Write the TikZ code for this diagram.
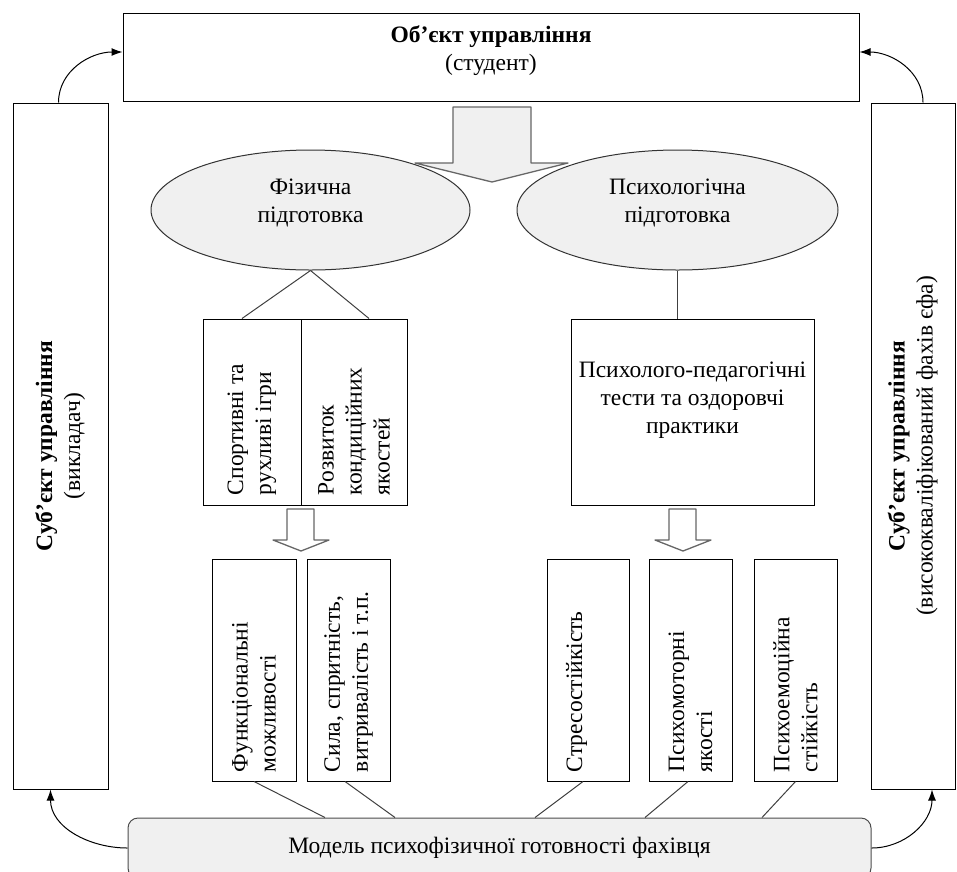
\documentclass[tikz,border=0pt]{standalone}
\usepackage{fontspec}
\setmainfont{Liberation Serif}
\usetikzlibrary{shapes.geometric,arrows.meta}

\newcommand{\vtext}[2]{\rotatebox{90}{\parbox{#1}{\raggedright #2}}}

\begin{document}
\begin{tikzpicture}[x=1pt,y=1pt,font=\fontsize{23.5}{28}\selectfont,
	box/.style={rectangle,draw=black,line width=1pt,inner sep=0pt},
	oval/.style={ellipse,draw=black!80,fill=gray!12,line width=1pt,align=center},
	link/.style={draw=black!75,line width=1pt},
	flow/.style={-{Latex[length=11pt,width=8pt]},line width=1pt},
	fat/.style={draw=black!60,line width=1.3pt,line join=round}]
\clip (0,0) rectangle (957,-871);

% object and subjects
\node (obj)[box,minimum width=736pt,minimum height=88pt,align=center] at (491,-57) {\textbf{Об’єкт управління}\\(студент)\\[-10pt]};
\node (lsub)[box,minimum width=95pt,minimum height=686pt] at (60.5,-446) {\rotatebox{90}{\begin{tabular}{@{}c@{}}\textbf{Суб’єкт управління}\\(викладач)\end{tabular}}};
\node (rsub)[box,minimum width=84pt,minimum height=686pt] at (913,-446) {\rotatebox{90}{\begin{tabular}{@{}c@{}}\textbf{Суб’єкт управління}\\(висококваліфікований фахів єфа)\end{tabular}}};

% two kinds of training
\node (fiz)[oval,minimum width=319pt,minimum height=120pt] at (310.5,-210) {Фізична\\підготовка\\[-10pt]};
\node (psy)[oval,minimum width=321pt,minimum height=120pt] at (677.5,-210) {Психологічна\\підготовка\\[-10pt]};
\draw[fat,fill=gray!12] (453,-107) -- (531,-107) -- (531,-163) -- (568,-163) -- (492,-182) -- (415,-163) -- (453,-163) -- cycle;

% means
\node (sport)[box,minimum width=98pt,minimum height=186pt] at (252,-412) {\vtext{166pt}{Спортивні та\\рухливі ігри}};
\node (rozv)[box,minimum width=106pt,minimum height=186pt] at (354,-412) {\vtext{166pt}{Розвиток\\кондиційних\\якостей}};
\node (tests)[box,minimum width=243pt,minimum height=186pt,align=center] at (692.5,-412) {Психолого-педагогічні\\тести та оздоровчі\\практики\\~};

\draw[link] (fiz.south) -- ([xshift=-10pt]sport.north);
\draw[link] (fiz.south) -- ([xshift=15pt]rozv.north);
\draw[link] (psy.south) -- (psy.south |- tests.north);

\foreach \x in {301,683}
	\draw[fat,fill=white] (\x-14,-509) -- (\x+13,-509) -- (\x+13,-540) -- (\x+28,-540) -- (\x,-551) -- (\x-28,-540) -- (\x-14,-540) -- cycle;

% results
\node (func)[box,minimum width=84pt,minimum height=222pt] at (254,-670) {\vtext{204pt}{Функціональні\\можливості}};
\node (sila)[box,minimum width=83pt,minimum height=222pt] at (348.5,-670) {\vtext{204pt}{Сила, спритність,\\витривалість і т.п.}};
\node (stress)[box,minimum width=82pt,minimum height=222pt] at (588,-670) {\vtext{204pt}{Стресостійкість\\~}};
\node (pmot)[box,minimum width=83pt,minimum height=222pt] at (690.5,-670) {\vtext{204pt}{Психомоторні\\якості}};
\node (pemo)[box,minimum width=83pt,minimum height=222pt] at (795.5,-670) {\vtext{204pt}{Психоемоційна\\стійкість}};

\node (model)[box,rounded corners=10pt,draw=black!70,fill=gray!12,minimum width=743pt,minimum height=60pt] at (499.5,-848) {Модель психофізичної готовності фахівця};

\draw[link] (func.south) -- ([xshift=-174.5pt]model.north);
\draw[link] ([xshift=-3.5pt]sila.south) -- ([xshift=-104.5pt]model.north);
\draw[link] ([xshift=-5pt]stress.south) -- ([xshift=35.5pt]model.north);
\draw[link] ([xshift=-2.5pt]pmot.south) -- ([xshift=145.5pt]model.north);
\draw[link] (pemo.south) -- ([xshift=262.5pt]model.north);

% feedback loop
\draw[flow] ([xshift=-2pt]lsub.north) to[out=90,in=180] ([yshift=5pt]obj.west);
\draw[flow] ([xshift=10pt]rsub.north) to[out=90,in=0] ([yshift=5pt]obj.east);
\draw[flow] (model.west) to[out=180,in=270] ([xshift=-10pt]lsub.south);
\draw[flow] (model.east) to[out=0,in=270] ([xshift=19pt]rsub.south);
\end{tikzpicture}
\end{document}
